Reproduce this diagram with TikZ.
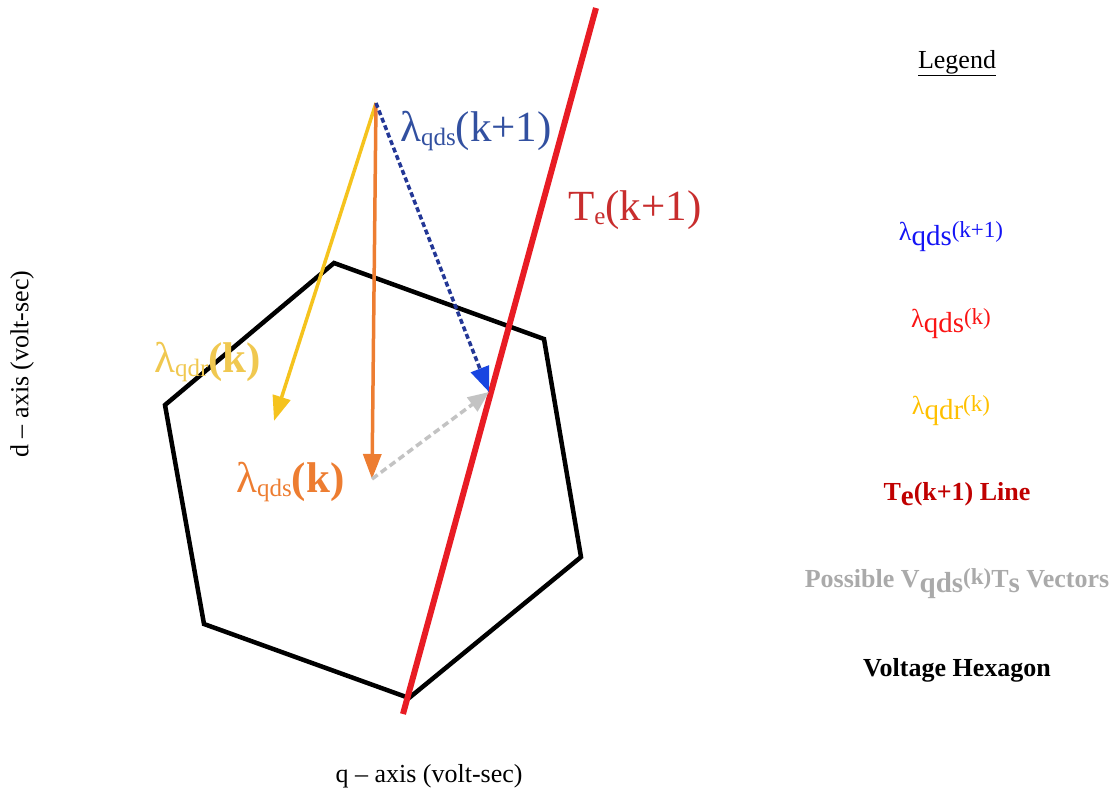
\documentclass[tikz,border=0pt]{standalone}
\usepackage{fontspec}
\setmainfont{Liberation Serif}
\usetikzlibrary{arrows.meta}
\definecolor{lineRed}{RGB}{232,28,36}
\definecolor{teRed}{RGB}{200,45,45}
\definecolor{arrBlueLine}{RGB}{35,55,150}
\definecolor{arrBlueTip}{RGB}{25,70,225}
\definecolor{lblBlue}{RGB}{50,80,160}
\definecolor{arrOrange}{RGB}{237,125,49}
\definecolor{arrGold}{RGB}{245,195,30}
\definecolor{lblGold}{RGB}{240,200,80}
\definecolor{arrGray}{RGB}{195,195,195}
\definecolor{legBlue}{RGB}{20,20,245}
\definecolor{legRed}{RGB}{250,20,20}
\definecolor{legGold}{RGB}{255,192,0}
\definecolor{legTe}{RGB}{192,0,0}
\definecolor{legGray}{RGB}{170,170,170}
\newcommand{\bigfont}{\fontsize{43}{46}\selectfont}
\newcommand{\legfont}{\fontsize{26}{30}\selectfont}
\newcommand{\dsub}[1]{\raisebox{-0.1em}{\fontsize{25}{25}\selectfont #1}}
\newcommand{\lsub}[1]{\raisebox{-0.22em}{\fontsize{29}{29}\selectfont #1}}
\newcommand{\lsup}[1]{\raisebox{0.1em}{\fontsize{23}{23}\selectfont #1}}
\tikzset{
  hexline/.style={line width=4.5pt, black, line join=miter},
  teline/.style={line width=6pt, lineRed},
  fluxarrow/.style={line width=3.5pt},
  lbl/.style={inner sep=0pt, anchor=base west},
  legend/.style={inner sep=0pt, anchor=base, font=\legfont},
  axislbl/.style={inner sep=0pt, font=\legfont}
}
\begin{document}
\begin{tikzpicture}[x=1pt,y=-1pt]
\useasboundingbox (0,0) rectangle (1118,793);
% hexagon
\coordinate (h1) at (334,263);
\coordinate (h2) at (544,339);
\coordinate (h3) at (581,557);
\coordinate (h4) at (409,698);
\coordinate (h5) at (204,624);
\coordinate (h6) at (165,405);
\draw[hexline] (h1) -- (h2) -- (h3) -- (h4) -- (h5) -- (h6) -- cycle;
% torque line
\coordinate (t0) at (403,714);
\coordinate (t1) at (596,8);
\draw[teline] (t0) -- (t1);
% flux vectors
\coordinate (o) at (376,103);
\coordinate (ytip) at (274,421);
\coordinate (otip) at (372,479);
\coordinate (btip) at (489,392);
\draw[fluxarrow, arrGold, -{Triangle[length=25pt,width=18pt]}] (o) -- (ytip);
\draw[fluxarrow, arrOrange, -{Triangle[length=25pt,width=18pt]}] (o) -- (otip);
\draw[fluxarrow, arrBlueLine, dash pattern=on 5pt off 3pt, -{Triangle[length=25pt,width=19pt,color=arrBlueTip]}] (o) -- (btip);
\draw[line width=3.5pt, arrGray, dash pattern=on 7pt off 4pt, -{Triangle[length=21pt,width=17pt]}] (otip) -- (btip);
% diagram labels
\node[lbl, text=lblBlue] (lb) at (400,141) {\bigfont λ\dsub{qds}(k+1)};
\node[lbl, text=teRed] (lt) at (568,220) {\bigfont T\dsub{e}(k+1)};
\node[lbl, text=lblGold] (ly) at (154,372) {\bigfont λ\dsub{qdr}\textbf{(k)}};
\node[lbl, text=arrOrange] (lo) at (236,492) {\bigfont λ\dsub{qds}\textbf{(k)}};
% axis labels
\node[axislbl, rotate=90] (dax) at (22,364) {d -- axis (volt-sec)};
\node[axislbl] (qax) at (429,776) {q -- axis (volt-sec)};
% legend
\node[legend] (leg) at (957,68) {\underline{Legend}};
\node[legend, text=legBlue] (l1) at (951,240) {λ\lsub{qds}\lsup{(k+1)}};
\node[legend, text=legRed] (l2) at (951,327) {λ\lsub{qds}\lsup{(k)}};
\node[legend, text=legGold] (l3) at (951,414) {λ\lsub{qdr}\lsup{(k)}};
\node[legend, text=legTe] (l4) at (957,500) {\textbf{T\lsub{e}(k+1) Line}};
\node[legend, text=legGray] (l5) at (957,587) {\textbf{Possible V\lsub{qds}\lsup{(k)}T\lsub{s} Vectors}};
\node[legend] (l6) at (957,676) {\textbf{Voltage Hexagon}};
\end{tikzpicture}
\end{document}
